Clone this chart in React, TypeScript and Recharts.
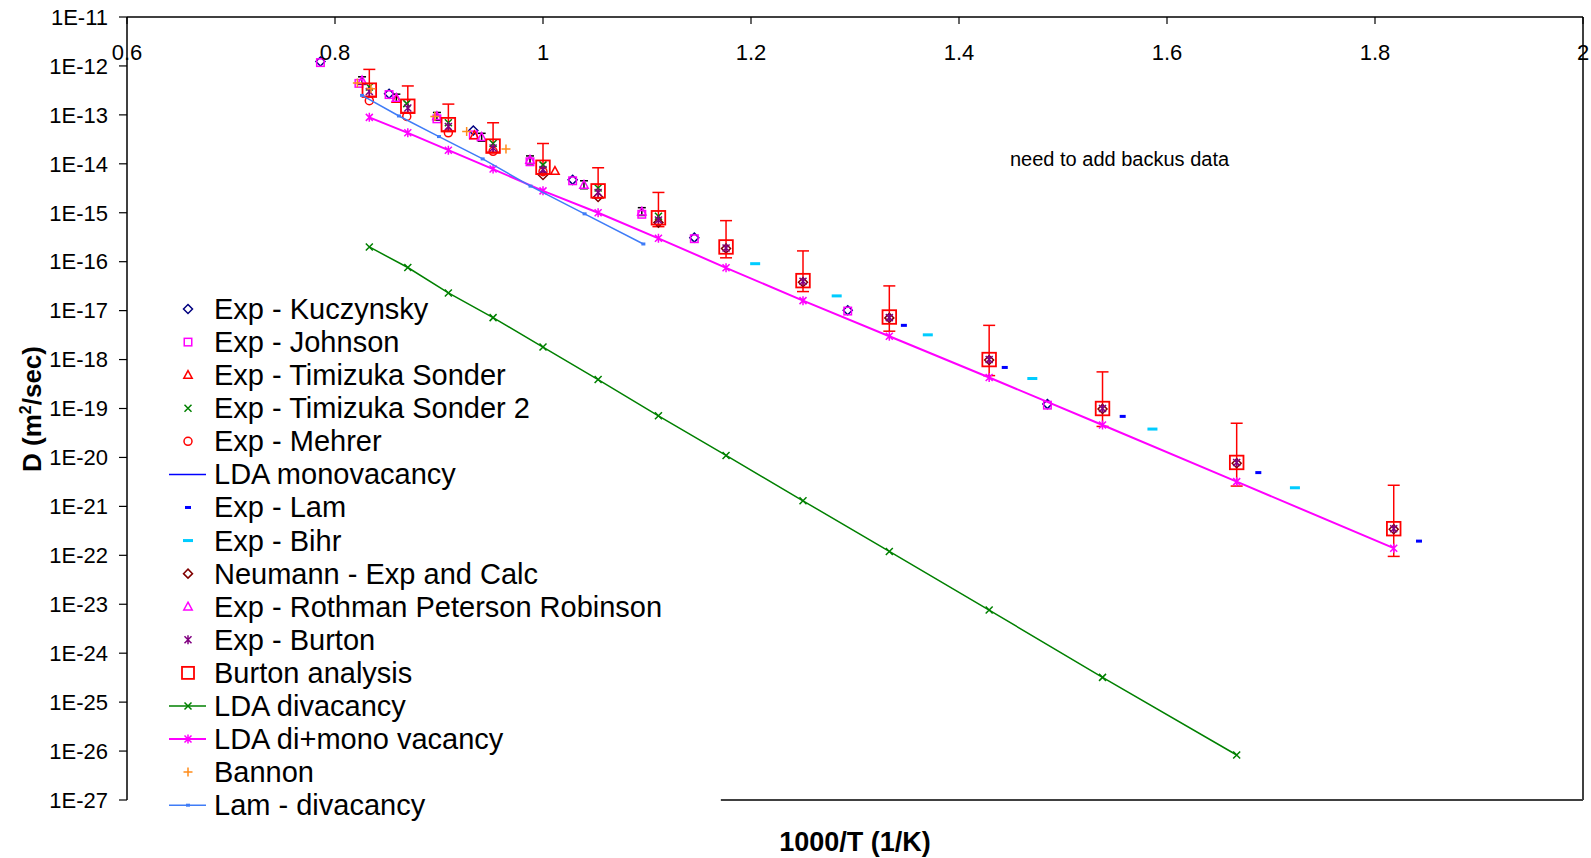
import React from "react";
import { ScatterChart, Scatter, XAxis, YAxis, ErrorBar, ReferenceLine, Legend } from "recharts";

const W = 1591;
const H = 858;
const PLOT_TOP = 17;
const FONT = "'Liberation Sans', Arial, Helvetica, sans-serif";

const xTicks = [0.6, 0.8, 1, 1.2, 1.4, 1.6, 1.8, 2];
const yTicks = [
  1e-11, 1e-12, 1e-13, 1e-14, 1e-15, 1e-16, 1e-17, 1e-18, 1e-19, 1e-20, 1e-21, 1e-22, 1e-23, 1e-24, 1e-25,
  1e-26, 1e-27,
];

// x = 1000/T (1/K), D in m^2/sec
const kuczynskyX = [0.786, 0.852, 0.933, 1.0285, 1.1455, 1.293, 1.485];
const kuczynskyD = [1.23e-12, 2.7e-13, 4.8e-14, 4.7e-15, 3.1e-16, 1.02e-17, 1.23e-19];

const johnsonX = [0.786, 0.823, 0.852, 0.898, 0.933, 0.9875, 1.0285, 1.095, 1.1455, 1.293, 1.485];
const johnsonD = [1.17e-12, 4.4e-13, 2.6e-13, 8.3e-14, 3.9e-14, 1.1e-14, 4.5e-15, 9.3e-16, 2.95e-16, 9.8e-18, 1.17e-19];

const timizukaX = [0.859, 0.934, 1.0115];
const timizukaD = [2.1e-13, 3.8e-14, 7.1e-15];

const timizuka2X = [0.833, 0.869, 0.909, 0.952, 1.0, 1.053, 1.111];
const timizuka2D = [3.7e-13, 1.7e-13, 6.9e-14, 2.6e-14, 9.5e-15, 3.2e-15, 8.5e-16];

const mehrerX = [0.833, 0.869, 0.909, 0.952, 1.0];
const mehrerD = [1.95e-13, 9.3e-14, 4.3e-14, 1.8e-14, 6.9e-15];

const expLamX = [1.347, 1.444, 1.5574, 1.6878, 1.8423];
const expLamD = [5.0e-18, 6.9e-19, 6.9e-20, 4.9e-21, 1.95e-22];

const bihrX = [1.204, 1.2824, 1.37, 1.4705, 1.586, 1.723];
const bihrD = [9.1e-17, 2.0e-17, 3.2e-18, 4.1e-19, 3.8e-20, 2.4e-21];

const neumannX = [1.0, 1.053, 1.111, 1.176, 1.25, 1.333, 1.429, 1.538, 1.667, 1.818];
const neumannD = [5.9e-15, 2.1e-15, 6.3e-16, 1.86e-16, 3.8e-17, 7.1e-18, 9.8e-19, 9.8e-20, 7.6e-21, 3.4e-22];

const rothmanX = [0.826, 0.859, 0.898, 0.941, 0.9875, 1.0394, 1.095];
const rothmanD = [5.0e-13, 2.2e-13, 9.3e-14, 3.5e-14, 1.2e-14, 3.7e-15, 1.05e-15];
const rothmanHigh = [6.0e-13, 2.65e-13, 1.12e-13, 4.2e-14, 1.45e-14, 4.5e-15, 1.27e-15];
const rothmanLow = [4.2e-13, 1.85e-13, 7.8e-14, 2.9e-14, 1.0e-14, 3.1e-15, 8.8e-16];

const burtonX = [0.833, 0.87, 0.909, 0.952, 1.0, 1.053, 1.111, 1.176, 1.25, 1.333, 1.429, 1.538, 1.667, 1.818];
const expBurtonD = [
  3.0e-13, 1.38e-13, 5.8e-14, 2.1e-14, 7.6e-15, 2.6e-15, 7.1e-16, 1.9e-16, 4.0e-17, 7.2e-18, 1.0e-18, 1.0e-19,
  7.9e-21, 3.5e-22,
];
const burtonD = [
  3.2e-13, 1.5e-13, 6.3e-14, 2.3e-14, 8.5e-15, 2.8e-15, 7.9e-16, 2.0e-16, 4.1e-17, 7.4e-18, 1.0e-18, 1.0e-19,
  7.9e-21, 3.5e-22,
];
const burtonHigh = [
  8.5e-13, 3.9e-13, 1.66e-13, 6.9e-14, 2.6e-14, 8.3e-15, 2.6e-15, 6.9e-16, 1.66e-16, 3.2e-17, 5.0e-18, 5.6e-19,
  5.0e-20, 2.7e-21,
];
const burtonLow = [
  2.4e-13, 1.12e-13, 4.7e-14, 1.74e-14, 6.2e-15, 2.0e-15, 5.2e-16, 1.2e-16, 2.45e-17, 3.8e-18, 4.7e-19, 4.3e-20,
  2.6e-21, 9.5e-23,
];

const ldaX = [0.833, 0.87, 0.909, 0.952, 1.0, 1.053, 1.111, 1.176, 1.25, 1.333, 1.429, 1.538, 1.667, 1.818];
const ldaDivacancyD = [
  2.0e-16, 7.6e-17, 2.3e-17, 7.2e-18, 1.8e-18, 3.9e-19, 7.1e-20, 1.1e-20, 1.3e-21, 1.2e-22, 7.6e-24, 3.2e-25,
  8.3e-27,
];
const ldaDiMonoD = [
  8.9e-14, 4.3e-14, 1.9e-14, 7.8e-15, 2.8e-15, 1.0e-15, 3.0e-16, 7.5e-17, 1.6e-17, 3.0e-18, 4.3e-19, 4.6e-20,
  3.2e-21, 1.4e-22,
];

const bannonX = [0.8215, 0.8346, 0.896, 0.9266, 0.9644];
const bannonD = [4.5e-13, 3.4e-13, 9.3e-14, 4.6e-14, 2.0e-14];

const lamDivacancyX = [0.826, 0.8615, 0.9, 0.942, 0.988, 1.04, 1.0965];
const lamDivacancyD = [2.5e-13, 9.5e-14, 3.6e-14, 1.26e-14, 3.5e-15, 9.5e-16, 2.3e-16];

type Pt = { x: number; y: number; err?: [number, number] };
type Kind = "diamond" | "square" | "triangle" | "cross" | "star" | "plus" | "circle" | "dash" | "wideDash" | "dot" | "box";

const pts = (xs: number[], ds: number[]): Pt[] => xs.map((x, i) => ({ x, y: ds[i] })).filter((p) => p.y !== undefined);

const ptsWithErr = (xs: number[], ds: number[], lo: number[], hi: number[]): Pt[] =>
  xs.map((x, i) => ({ x, y: ds[i], err: [ds[i] - lo[i], hi[i] - ds[i]] }));

interface SeriesDef {
  name: string;
  color: string;
  kind?: Kind;
  lineWidth?: number;
  errColor?: string;
  data: Pt[];
}

const SERIES: SeriesDef[] = [
  { name: "Exp - Kuczynsky", color: "#000080", kind: "diamond", data: pts(kuczynskyX, kuczynskyD) },
  { name: "Exp - Johnson", color: "#ff00ff", kind: "square", data: pts(johnsonX, johnsonD) },
  { name: "Exp - Timizuka Sonder", color: "#ff0000", kind: "triangle", data: pts(timizukaX, timizukaD) },
  { name: "Exp - Timizuka Sonder 2", color: "#008000", kind: "cross", data: pts(timizuka2X, timizuka2D) },
  { name: "Exp - Mehrer", color: "#ff0000", kind: "circle", data: pts(mehrerX, mehrerD) },
  { name: "LDA monovacancy", color: "#0000ff", lineWidth: 1.5, data: [] },
  { name: "Exp - Lam", color: "#0000ff", kind: "dash", data: pts(expLamX, expLamD) },
  { name: "Exp - Bihr", color: "#00ccff", kind: "wideDash", data: pts(bihrX, bihrD) },
  { name: "Neumann - Exp and Calc", color: "#800000", kind: "diamond", data: pts(neumannX, neumannD) },
  {
    name: "Exp - Rothman Peterson Robinson",
    color: "#ff00ff",
    kind: "triangle",
    errColor: "#000000",
    data: ptsWithErr(rothmanX, rothmanD, rothmanLow, rothmanHigh),
  },
  { name: "Exp - Burton", color: "#800080", kind: "star", data: pts(burtonX, expBurtonD) },
  {
    name: "Burton analysis",
    color: "#ff0000",
    kind: "box",
    errColor: "#ff0000",
    data: ptsWithErr(burtonX, burtonD, burtonLow, burtonHigh),
  },
  { name: "LDA divacancy", color: "#008000", kind: "cross", lineWidth: 1.5, data: pts(ldaX, ldaDivacancyD) },
  { name: "LDA di+mono vacancy", color: "#ff00ff", kind: "star", lineWidth: 2, data: pts(ldaX, ldaDiMonoD) },
  { name: "Bannon", color: "#ff8c1a", kind: "plus", data: pts(bannonX, bannonD) },
  { name: "Lam - divacancy", color: "#3f7cf7", kind: "dot", lineWidth: 1.5, data: pts(lamDivacancyX, lamDivacancyD) },
];

function Marker({ kind, x, y, color, legend }: { kind: Kind; x: number; y: number; color: string; legend?: boolean }) {
  const sw = 1.5;
  switch (kind) {
    case "diamond":
      return <path d={`M${x} ${y - 4.5}L${x + 4.5} ${y}L${x} ${y + 4.5}L${x - 4.5} ${y}Z`} fill="none" stroke={color} strokeWidth={sw} />;
    case "square":
      return <rect x={x - 3.75} y={y - 3.75} width={7.5} height={7.5} fill="none" stroke={color} strokeWidth={sw} />;
    case "triangle":
      return <path d={`M${x} ${y - 4.5}L${x + 4.2} ${y + 3.2}L${x - 4.2} ${y + 3.2}Z`} fill="none" stroke={color} strokeWidth={sw} />;
    case "cross":
      return (
        <path d={`M${x - 3.5} ${y - 3.5}L${x + 3.5} ${y + 3.5}M${x - 3.5} ${y + 3.5}L${x + 3.5} ${y - 3.5}`} stroke={color} strokeWidth={sw} />
      );
    case "star":
      return (
        <path
          d={`M${x - 3.5} ${y - 3.5}L${x + 3.5} ${y + 3.5}M${x - 3.5} ${y + 3.5}L${x + 3.5} ${y - 3.5}M${x} ${y - 4.5}L${x} ${y + 4.5}`}
          stroke={color}
          strokeWidth={sw}
        />
      );
    case "plus":
      return <path d={`M${x - 4.5} ${y}L${x + 4.5} ${y}M${x} ${y - 4.5}L${x} ${y + 4.5}`} stroke={color} strokeWidth={sw} />;
    case "circle":
      return <circle cx={x} cy={y} r={4} fill="none" stroke={color} strokeWidth={sw} />;
    case "dash":
      return <rect x={x - 3} y={y - 1.5} width={6} height={3} fill={color} />;
    case "wideDash":
      return <rect x={x - 5} y={y - 1.5} width={10} height={3} fill={color} />;
    case "dot":
      return <rect x={x - 2} y={y - 1.5} width={4} height={3} fill={color} />;
    case "box": {
      const h = legend ? 6 : 6.8;
      return <rect x={x - h} y={y - h} width={2 * h} height={2 * h} fill="none" stroke={color} strokeWidth={1.8} />;
    }
  }
  return null;
}

function TopTick(props: any) {
  const { x, payload } = props;
  const label = String(Number(Number(payload.value).toFixed(1)));
  return (
    <g>
      <line x1={x} x2={x} y1={PLOT_TOP} y2={PLOT_TOP + 7} stroke="#000" strokeWidth={1.2} />
      <text x={x} y={PLOT_TOP + 43} textAnchor="middle" fontSize={22} fontFamily={FONT} fill="#000">
        {label}
      </text>
    </g>
  );
}

const LEGEND_LEFT = 160;
const LEGEND_TOP = 290;
const ROW_GAP = 33.08;

function LegendBox() {
  return (
    <svg width={600} height={540} style={{ overflow: "visible" }}>
      {SERIES.map((s, i) => {
        const cy = 19 + i * ROW_GAP;
        return (
          <g key={s.name}>
            {s.lineWidth && <line x1={9} x2={46} y1={cy} y2={cy} stroke={s.color} strokeWidth={s.lineWidth} />}
            {s.kind && <Marker kind={s.kind} x={28} y={cy} color={s.color} legend />}
            <text x={54} y={cy + 10} fontSize={29} fontFamily={FONT} fill="#000">
              {s.name}
            </text>
          </g>
        );
      })}
    </svg>
  );
}

export default function App() {
  return (
    <div style={{ position: "absolute", left: 0, top: 0, width: W, height: H, background: "#fff" }}>
      <ScatterChart width={W} height={H} margin={{ top: 2, right: 8, bottom: 58, left: 27 }}>
        <XAxis
          type="number"
          dataKey="x"
          orientation="top"
          domain={[0.6, 2]}
          ticks={xTicks}
          interval={0}
          allowDataOverflow
          height={15}
          axisLine={{ stroke: "#000", strokeWidth: 1.5 }}
          tickLine={false}
          tick={(p: any) => <TopTick {...p} />}
        />
        <YAxis
          type="number"
          dataKey="y"
          scale="log"
          domain={[1e-27, 1e-11]}
          ticks={yTicks}
          interval={0}
          allowDataOverflow
          width={100}
          tickSize={8}
          tickMargin={11}
          tickFormatter={(v: number) => `1E${Math.round(Math.log10(v))}`}
          axisLine={{ stroke: "#000", strokeWidth: 1.5 }}
          tickLine={{ stroke: "#000", strokeWidth: 1.2 }}
          tick={{ fontSize: 22, fill: "#000", fontFamily: FONT }}
        />
        <ReferenceLine x={2} stroke="#404040" strokeWidth={2} />
        <ReferenceLine
          segment={[
            { x: 1.171, y: 1e-27 },
            { x: 2, y: 1e-27 },
          ]}
          stroke="#404040"
          strokeWidth={2}
        />
        {SERIES.map((s) => (
          <Scatter
            key={s.name}
            name={s.name}
            data={s.data}
            fill={s.color}
            isAnimationActive={false}
            line={s.lineWidth && s.data.length ? { stroke: s.color, strokeWidth: s.lineWidth } : false}
            lineType="joint"
            shape={(p: any) => (s.kind ? <Marker kind={s.kind} x={p.cx} y={p.cy} color={s.color} /> : <g />)}
          >
            {s.errColor && (
              <ErrorBar
                dataKey="err"
                direction="y"
                width={s.errColor === "#000000" ? 4 : 6}
                stroke={s.errColor}
                strokeWidth={1.5}
                isAnimationActive={false}
              />
            )}
          </Scatter>
        ))}
        <Legend
          layout="vertical"
          align="center"
          verticalAlign="middle"
          wrapperStyle={{ left: LEGEND_LEFT, top: LEGEND_TOP, width: 600, height: 540 }}
          content={() => <LegendBox />}
        />
      </ScatterChart>
      <svg width={W} height={H} style={{ position: "absolute", left: 0, top: 0, pointerEvents: "none" }}>
        <text
          transform="translate(41,409) rotate(-90)"
          textAnchor="middle"
          fontSize={26}
          fontWeight="bold"
          fontFamily={FONT}
          fill="#000"
        >
          D (m
          <tspan dy={-10} fontSize={16}>
            2
          </tspan>
          <tspan dy={10}>/sec)</tspan>
        </text>
        <text x={855} y={851} textAnchor="middle" fontSize={27} fontWeight="bold" fontFamily={FONT} fill="#000">
          1000/T (1/K)
        </text>
        <text x={1010} y={166} fontSize={20} fontFamily={FONT} fill="#000">
          need to add backus data
        </text>
      </svg>
    </div>
  );
}
